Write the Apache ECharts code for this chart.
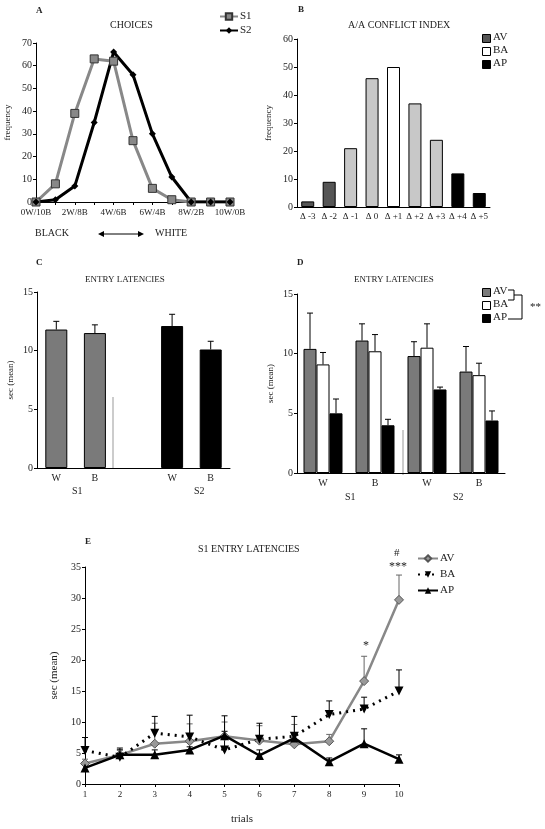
<!DOCTYPE html>
<html>
<head>
<meta charset="utf-8">
<script src="https://cdn.jsdelivr.net/npm/echarts@6/dist/echarts.min.js"></script>
<style>html,body{margin:0;padding:0;background:#fff}#main{width:545px;height:829px}</style>
</head>
<body>
<div id="main"></div>
<script>
// panel A
const choiceCats = ['0W/10B','1W/9B','2W/8B','3W/7B','4W/6B','5W/5B','6W/4B','7W/3B','8W/2B','9W/1B','10W/0B']
const choiceS1 = [0, 8, 39, 63, 62, 27, 6, 1, 0, 0, 0]
const choiceS2 = [0, 1, 7, 35, 66, 56, 30, 11, 0, 0, 0]
// panel B
const conflictCats = ['Δ -3','Δ -2','Δ -1','Δ 0','Δ +1','Δ +2','Δ +3','Δ +4','Δ +5']
const conflictVals = [2, 9, 21, 46, 50, 37, 24, 12, 5]
const conflictColors = ['#555','#555','#c8c8c8','#c8c8c8','#fff','#c8c8c8','#c8c8c8','#000','#000']
// panel C
const latCats = ['W', 'B', '', 'W', 'B']
const latMean = [11.8, 11.5, null, 12.1, 10.1]
const latErr = [12.5, 12.2, null, 13.1, 10.8]
// panel D
const grpCats = ['W', 'B', 'W', 'B']
const dAV = [10.4, 11.1, 9.8, 8.5]
const dAVErr = [13.4, 12.5, 11.0, 10.6]
const dBA = [9.1, 10.2, 10.5, 8.2]
const dBAErr = [10.1, 11.6, 12.5, 9.2]
const dAP = [5.0, 4.0, 7.0, 4.4]
const dAPErr = [6.2, 4.5, 7.2, 5.2]
// panel E
const trials = ['1','2','3','4','5','6','7','8','9','10']
const eAV = [3.3, 4.7, 6.5, 6.9, 7.7, 7.0, 6.4, 6.9, 16.6, 29.7]
const eAVErr = [4.0, 5.5, 9.8, 9.7, 10.0, 9.4, 9.6, 8.0, 20.6, 33.7]
const eBA = [5.4, 4.3, 8.2, 7.6, 5.5, 7.2, 7.7, 11.2, 12.1, 15.0]
const eBAErr = [7.5, 5.8, 10.9, 11.1, 11.0, 9.8, 10.9, 13.4, 14.0, 18.4]
const eAP = [2.6, 4.7, 4.7, 5.5, 7.8, 4.6, 7.4, 3.6, 6.5, 4.0]
const eAPErr = [3.5, 5.5, 5.5, 6.0, 8.5, 5.5, 8.0, 4.2, 8.9, 4.7]

const FONT = 'Liberation Serif'
const txt = { fontFamily: FONT, color: '#222', fontSize: 10 }

function errBars(xIdx, yIdx, mean, upper, offset, color) {
  return {
    type: 'custom', xAxisIndex: xIdx, yAxisIndex: yIdx, z: 1,
    data: mean.map((v, i) => v == null ? null : [i, v, upper[i]]).filter(d => d),
    renderItem(params, api) {
      const a = api.coord([api.value(0), api.value(1)])
      const b = api.coord([api.value(0), api.value(2)])
      const x = a[0] + offset
      const st = { stroke: color || '#000', lineWidth: 1 }
      return { type: 'group', children: [
        { type: 'line', shape: { x1: x, y1: a[1], x2: x, y2: b[1] }, style: st },
        { type: 'line', shape: { x1: x - 3, y1: b[1], x2: x + 3, y2: b[1] }, style: st }
      ] }
    }
  }
}

function axisY(gi, max, interval, name, nameGap) {
  return {
    gridIndex: gi, min: 0, max, interval, splitLine: { show: false },
    axisLine: { show: true, lineStyle: { color: '#000' } },
    axisTick: { show: true, length: 3 },
    axisLabel: { ...txt, fontSize: 10, margin: 4 },
    name, nameLocation: 'middle', nameGap, nameTextStyle: { ...txt, fontSize: 9 }
  }
}
function axisX(gi, data, extra) {
  return Object.assign({
    type: 'category', gridIndex: gi, data,
    axisLine: { lineStyle: { color: '#000' } },
    axisTick: { show: true, length: 3, alignWithLabel: true },
    axisLabel: { ...txt, fontSize: 10, margin: 5 }
  }, extra || {})
}

function legendBox(x, y, items) {
  const out = []
  items.forEach((it, i) => {
    out.push({ type: 'rect', left: x, top: y + i * 13, shape: { width: 8, height: 8 },
      style: { fill: it[1], stroke: '#000', lineWidth: 1 } })
    out.push({ type: 'text', left: x + 11, top: y + i * 13 - 2,
      style: { text: it[0], font: '11px ' + FONT, fill: '#222' } })
  })
  return out
}
function label(x, y, t, size, bold) {
  return { type: 'text', left: x, top: y, style: { text: t, font: (bold ? 'bold ' : '') + (size || 10) + 'px ' + FONT, fill: '#222' } }
}

const chart = echarts.init(document.getElementById('main'))
chart.setOption({
  backgroundColor: '#fff',
  animation: false,
  grid: [
    { left: 36, top: 43, width: 194, height: 159 },
    { left: 297, top: 39, width: 193, height: 168 },
    { left: 37, top: 292, width: 193, height: 176 },
    { left: 297, top: 294, width: 208, height: 179 },
    { left: 85, top: 567, width: 314, height: 217 }
  ],
  xAxis: [
    axisX(0, choiceCats, { boundaryGap: false, axisLabel: { ...txt, fontSize: 9, margin: 6, interval: 1 }, axisTick: { show: true, length: 3, interval: 0 } }),
    axisX(1, conflictCats, { axisLabel: { ...txt, fontSize: 9, margin: 5, interval: 0 }, axisTick: { show: false } }),
    axisX(2, latCats, { axisTick: { show: false } }),
    axisX(3, grpCats, { axisTick: { show: false } }),
    axisX(4, trials, { boundaryGap: false, name: 'trials', nameLocation: 'middle', nameGap: 30, nameTextStyle: { ...txt, fontSize: 11 }, axisLabel: { ...txt, fontSize: 9, margin: 6 } })
  ],
  yAxis: [
    axisY(0, 70, 10, 'frequency', 24),
    axisY(1, 60, 10, 'frequency', 24),
    axisY(2, 15, 5, 'sec (mean)', 22),
    axisY(3, 15, 5, 'sec (mean)', 22),
    Object.assign(axisY(4, 35, 5, 'sec (mean)', 24), { nameTextStyle: { ...txt, fontSize: 11 } })
  ],
  legend: [
    { left: 214, top: 6, orient: 'vertical', itemWidth: 18, itemHeight: 8, itemGap: 3,
      data: ['S1', 'S2'], textStyle: { ...txt, fontSize: 11, padding: [0, 0, 0, -3] } },
    { left: 412, top: 548, orient: 'vertical', itemWidth: 20, itemHeight: 8, itemGap: 5,
      data: ['AV', 'BA', 'AP'], textStyle: { ...txt, fontSize: 11, padding: [0, 0, 0, -3] } }
  ],
  series: [
    { name: 'S1', type: 'line', xAxisIndex: 0, yAxisIndex: 0, data: choiceS1,
      lineStyle: { color: '#888', width: 3 }, itemStyle: { color: '#888', borderColor: '#333', borderWidth: 1 },
      symbol: 'rect', symbolSize: 8 },
    { name: 'S2', type: 'line', xAxisIndex: 0, yAxisIndex: 0, data: choiceS2,
      lineStyle: { color: '#000', width: 3 }, itemStyle: { color: '#000' },
      symbol: 'diamond', symbolSize: 7 },
    { type: 'bar', xAxisIndex: 1, yAxisIndex: 1, barWidth: 13,
      data: conflictVals.map((v, i) => ({ value: v, itemStyle: { color: conflictColors[i], borderColor: '#000', borderWidth: 1 } })) },
    { type: 'bar', xAxisIndex: 2, yAxisIndex: 2, barWidth: 22, z: 2,
      data: latMean.map((v, i) => ({ value: v, itemStyle: { color: i < 2 ? '#7a7a7a' : '#000', borderColor: '#000', borderWidth: 1 } })) },
    errBars(2, 2, latMean, latErr, 0),
    { type: 'bar', xAxisIndex: 3, yAxisIndex: 3, barWidth: 13, barGap: '0%', data: dAV, z: 2,
      itemStyle: { color: '#7a7a7a', borderColor: '#000', borderWidth: 1 } },
    { type: 'bar', xAxisIndex: 3, yAxisIndex: 3, barWidth: 13, barGap: '0%', data: dBA, z: 2,
      itemStyle: { color: '#fff', borderColor: '#000', borderWidth: 1 } },
    { type: 'bar', xAxisIndex: 3, yAxisIndex: 3, barWidth: 13, barGap: '0%', data: dAP, z: 2,
      itemStyle: { color: '#000', borderColor: '#000', borderWidth: 1 } },
    errBars(3, 3, dAV, dAVErr, -13),
    errBars(3, 3, dBA, dBAErr, 0),
    errBars(3, 3, dAP, dAPErr, 13),
    errBars(4, 4, eAV, eAVErr, 0, '#666'),
    errBars(4, 4, eBA, eBAErr, 0),
    errBars(4, 4, eAP, eAPErr, 0),
    { name: 'AV', type: 'line', xAxisIndex: 4, yAxisIndex: 4, data: eAV, z: 3,
      lineStyle: { color: '#888', width: 2.5 }, itemStyle: { color: '#999', borderColor: '#555', borderWidth: 1 },
      symbol: 'diamond', symbolSize: 9 },
    { name: 'BA', type: 'line', xAxisIndex: 4, yAxisIndex: 4, data: eBA, z: 3,
      lineStyle: { color: '#000', width: 3, type: [2, 5] }, itemStyle: { color: '#000' },
      symbol: 'triangle', symbolRotate: 180, symbolSize: 9 },
    { name: 'AP', type: 'line', xAxisIndex: 4, yAxisIndex: 4, data: eAP, z: 4,
      lineStyle: { color: '#000', width: 2.5 }, itemStyle: { color: '#000' },
      symbol: 'triangle', symbolSize: 9 }
  ],
  graphic: [
    label(36, 6, 'A', 9, true),
    label(110, 20, 'CHOICES', 10),
    label(35, 228, 'BLACK', 10),
    { type: 'line', shape: { x1: 102, y1: 234, x2: 140, y2: 234 }, style: { stroke: '#000', lineWidth: 1 } },
    { type: 'polygon', shape: { points: [[98, 234], [104, 231], [104, 237]] }, style: { fill: '#000' } },
    { type: 'polygon', shape: { points: [[144, 234], [138, 231], [138, 237]] }, style: { fill: '#000' } },
    label(155, 228, 'WHITE', 10),
    label(298, 5, 'B', 9, true),
    label(348, 20, 'A/A CONFLICT INDEX', 10),
    ...legendBox(482, 34, [['AV', '#555'], ['BA', '#fff'], ['AP', '#000']]),
    label(36, 258, 'C', 9, true),
    label(85, 275, 'ENTRY LATENCIES', 9),
    { type: 'line', shape: { x1: 113, y1: 397, x2: 113, y2: 468 }, style: { stroke: '#999', lineWidth: 1 } },
    label(72, 486, 'S1', 10),
    label(194, 486, 'S2', 10),
    label(297, 258, 'D', 9, true),
    label(354, 275, 'ENTRY LATENCIES', 9),
    ...legendBox(482, 288, [['AV', '#7a7a7a'], ['BA', '#fff'], ['AP', '#000']]),
    { type: 'polyline', shape: { points: [[508, 290], [514, 290], [514, 300], [508, 300]] }, style: { stroke: '#000', fill: null, lineWidth: 1 } },
    { type: 'polyline', shape: { points: [[514, 295], [522, 295], [522, 319], [508, 319]] }, style: { stroke: '#000', fill: null, lineWidth: 1 } },
    label(530, 302, '**', 11),
    { type: 'line', shape: { x1: 403, y1: 430, x2: 403, y2: 475 }, style: { stroke: '#999', lineWidth: 1 } },
    label(345, 492, 'S1', 10),
    label(453, 492, 'S2', 10),
    label(85, 537, 'E', 9, true),
    label(198, 544, 'S1 ENTRY LATENCIES', 10),
    label(363, 640, '*', 12),
    label(394, 548, '#', 11),
    label(389, 561, '***', 12)
  ]
})
</script>
</body>
</html>
